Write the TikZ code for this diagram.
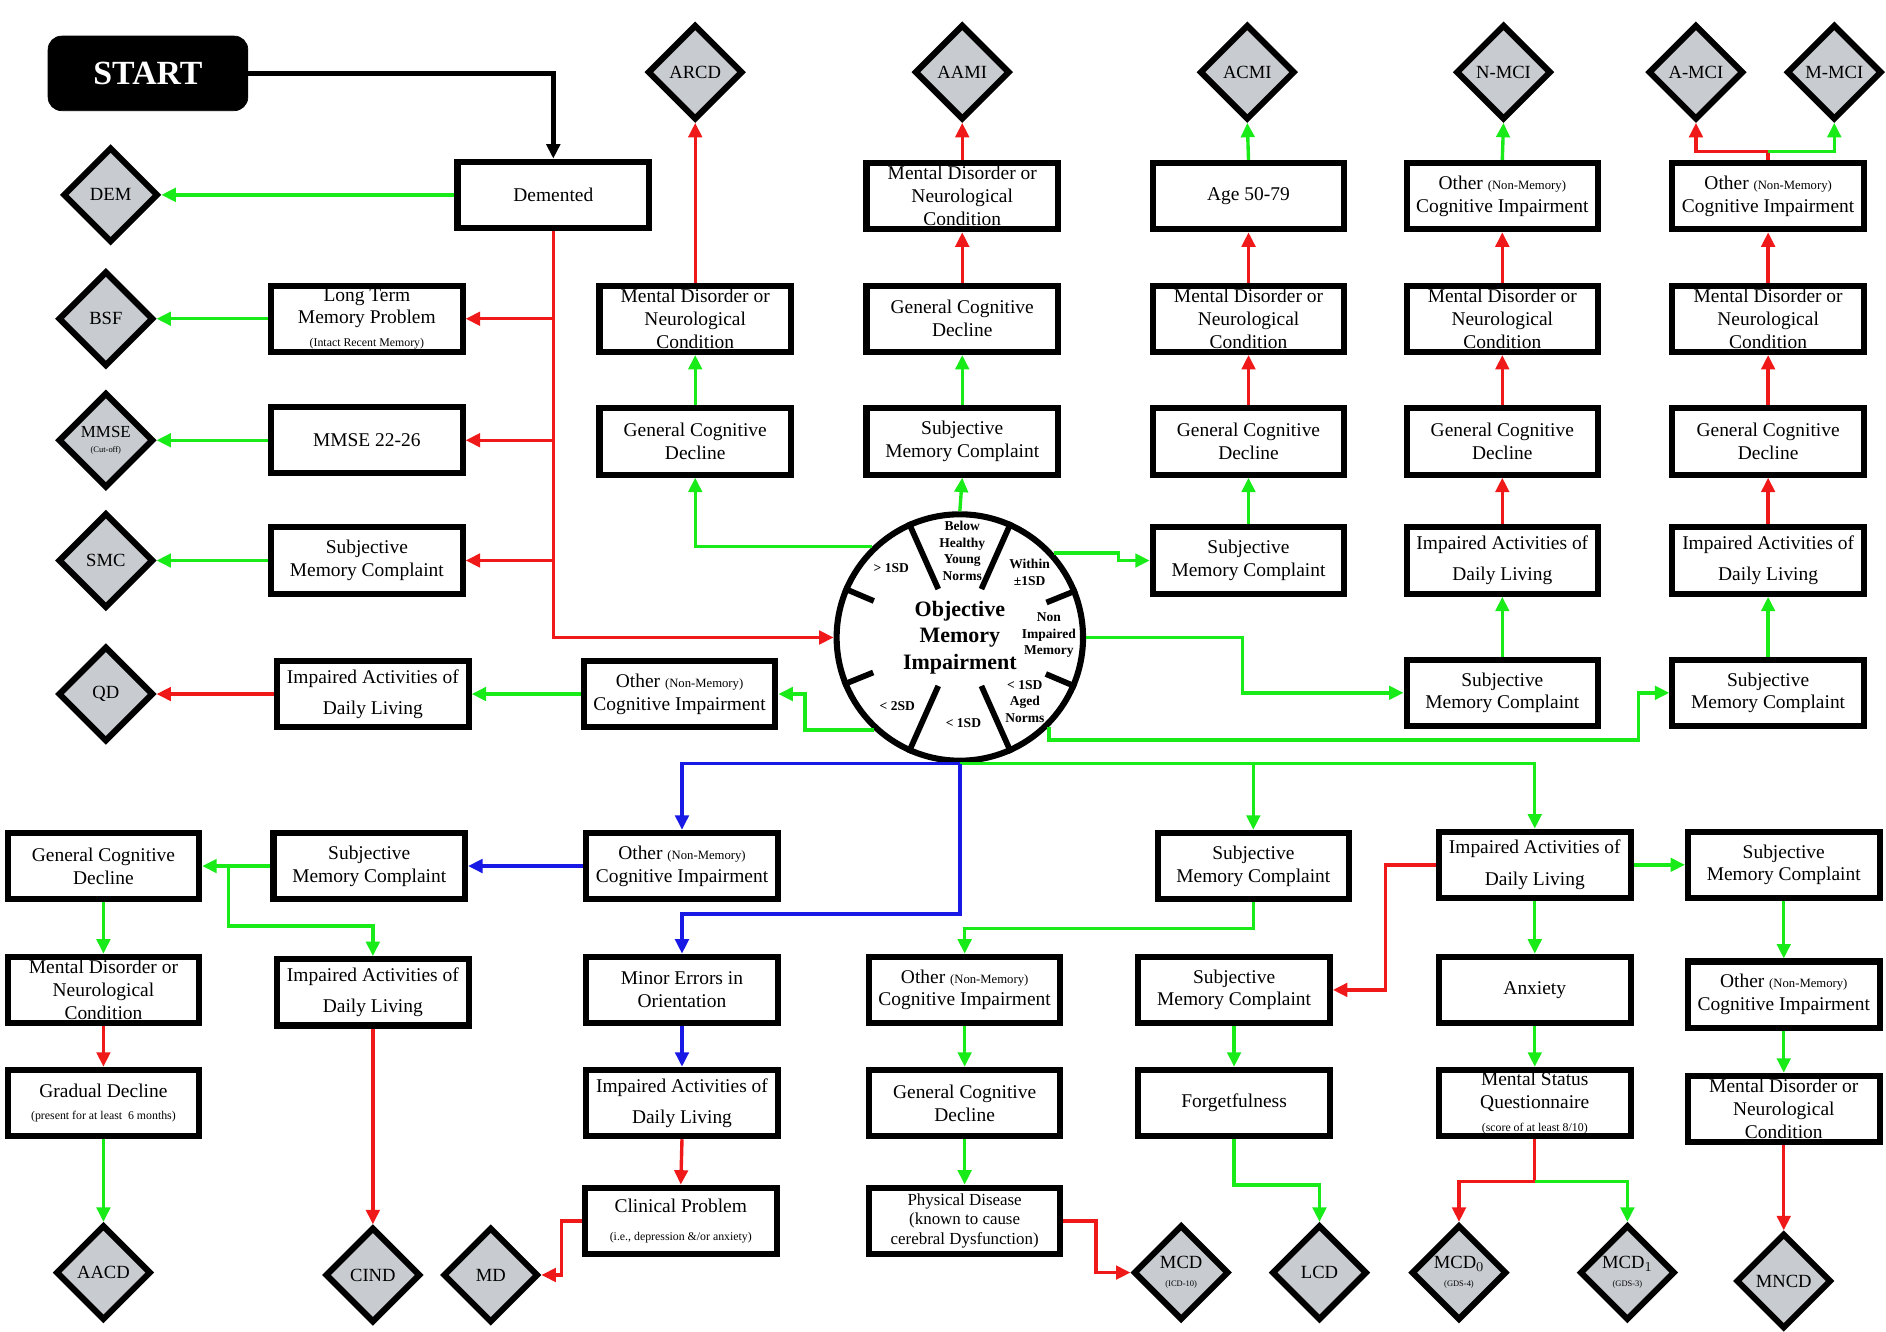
\documentclass[tikz,border=0pt]{standalone}
\usepackage{fontspec}
\setmainfont{Liberation Serif}
\usetikzlibrary{shapes.geometric}
\usetikzlibrary{arrows.meta}
\usetikzlibrary{calc}

\definecolor{okgreen}{RGB}{25,235,25}
\definecolor{nored}{RGB}{240,25,25}
\definecolor{altblue}{RGB}{25,25,230}
\definecolor{endgray}{RGB}{200,203,207}
\newcommand{\nonmem}{\fontsize{7.5}{9}\selectfont}

\tikzset{
  box/.style={draw, line width=3.6pt, fill=white, minimum width=3.98cm, minimum height=1.38cm, inner sep=1pt, align=center, font=\fontsize{11.5}{13.5}\selectfont},
  startbox/.style={draw, fill=black, text=white, rounded corners=8pt, minimum width=4.15cm, minimum height=1.55cm, font=\fontsize{20}{24}\selectfont\bfseries},
  endpt/.style={diamond, draw, line width=3.6pt, fill=endgray, minimum width=1.98cm, minimum height=1.98cm, inner sep=0pt, align=center, font=\fontsize{11}{10.5}\selectfont},
  seg/.style={inner sep=0pt, align=center, font=\fontsize{8}{9.8}\selectfont\bfseries},
  tip/.style={-{Triangle[length=0.3cm,width=0.28cm]}},
  yesline/.style={draw=okgreen, line width=2pt, tip},
  noline/.style={draw=nored, line width=2pt, tip},
  altline/.style={draw=altblue, line width=2pt, tip},
}

\begin{document}
\begin{tikzpicture}[x=0.025cm,y=-0.025cm]
\useasboundingbox (0,0) rectangle (1568,1107);

% start and the left column
\node[startbox] (start) at (123,61) {START};
\node[box] (demented) at (460,162) {Demented};
\node[endpt] (dem) at (92,162) {DEM};
\node[box] (ltm) at (305,265) {Long Term\\Memory Problem\\{\scriptsize (Intact Recent Memory)}};
\node[endpt] (bsf) at (88,265) {BSF};
\node[box] (mmse) at (305,366) {MMSE 22-26};
\node[endpt, font=\fontsize{10}{9}\selectfont] (mmsed) at (88,366) {MMSE\\{\tiny (Cut-off)}};
\node[box] (smcA) at (305,466) {Subjective\\Memory Complaint};
\node[endpt] (smc) at (88,466) {SMC};
\node[box] (iadlA) at (310,577) {Impaired Activities of\\[5pt]Daily Living};
\node[endpt] (qd) at (88,577) {QD};
\node[box] (othA) at (565,577) {Other {\nonmem (Non-Memory)}\\Cognitive Impairment};

% objective memory impairment
\node[circle, draw, line width=3.6pt, minimum size=5.12cm, align=center, font=\fontsize{13}{15.5}\selectfont\bfseries] (omi) at (798,530) {Objective\\Memory\\Impairment};
\foreach \a in {66,114,246,294}
  \draw[line width=3.4pt] ($(omi.center)!0.42!(omi.\a)$) -- (omi.\a);
\foreach \a in {22.5,157.5,202.5,337.5}
  \draw[line width=3.4pt] ($(omi.center)!0.74!(omi.\a)$) -- (omi.\a);
\node[seg] (sdover) at (741,472) {> 1SD};
\node[seg] (young) at (800,458) {Below\\Healthy\\Young\\Norms};
\node[seg] (within) at (856,476) {Within\\±1SD};
\node[seg] (nonimp) at (872,528) {Non\\Impaired\\Memory};
\node[seg] (aged) at (852,583) {< 1SD\\Aged\\Norms};
\node[seg] (sdone) at (801,601) {< 1SD};
\node[seg] (sdtwo) at (746,587) {< 2SD};

% top row
\node[endpt] (arcd) at (578,60) {ARCD};
\node[endpt] (aami) at (800,60) {AAMI};
\node[endpt] (acmi) at (1037,60) {ACMI};
\node[endpt] (nmci) at (1250,60) {N-MCI};
\node[endpt] (amci) at (1410,60) {A-MCI};
\node[endpt] (mmci) at (1525,60) {M-MCI};

\node[box] (mdncB) at (578,265) {Mental Disorder or\\Neurological\\Condition};
\node[box] (gcdB) at (578,367) {General Cognitive\\Decline};

\node[box] (mdncC) at (800,163) {Mental Disorder or\\Neurological\\Condition};
\node[box] (gcdC) at (800,265) {General Cognitive\\Decline};
\node[box] (smcC) at (800,367) {Subjective\\Memory Complaint};

\node[box] (ageD) at (1038,163) {Age 50-79};
\node[box] (mdncD) at (1038,265) {Mental Disorder or\\Neurological\\Condition};
\node[box] (gcdD) at (1038,367) {General Cognitive\\Decline};
\node[box] (smcD) at (1038,466) {Subjective\\Memory Complaint};

\node[box] (othE) at (1249,163) {Other {\nonmem (Non-Memory)}\\Cognitive Impairment};
\node[box] (mdncE) at (1249,265) {Mental Disorder or\\Neurological\\Condition};
\node[box] (gcdE) at (1249,367) {General Cognitive\\Decline};
\node[box] (iadlE) at (1249,466) {Impaired Activities of\\[5pt]Daily Living};
\node[box] (smcE) at (1249,576) {Subjective\\Memory Complaint};

\node[box] (othF) at (1470,163) {Other {\nonmem (Non-Memory)}\\Cognitive Impairment};
\node[box] (mdncF) at (1470,265) {Mental Disorder or\\Neurological\\Condition};
\node[box] (gcdF) at (1470,367) {General Cognitive\\Decline};
\node[box] (iadlF) at (1470,466) {Impaired Activities of\\[5pt]Daily Living};
\node[box] (smcF) at (1470,576) {Subjective\\Memory Complaint};

% lower part
\node[box] (gcdG) at (86,720) {General Cognitive\\Decline};
\node[box] (mdncG) at (86,823) {Mental Disorder or\\Neurological\\Condition};
\node[box] (gradG) at (86,917) {Gradual Decline\\{\scriptsize (present for at least \ 6 months)}};
\node[endpt] (aacd) at (86,1058) {AACD};

\node[box] (smcH) at (307,720) {Subjective\\Memory Complaint};
\node[box] (iadlH) at (310,825) {Impaired Activities of\\[5pt]Daily Living};
\node[endpt] (cind) at (310,1060) {CIND};

\node[box] (othI) at (567,720) {Other {\nonmem (Non-Memory)}\\Cognitive Impairment};
\node[box] (minorI) at (567,823) {Minor Errors in\\Orientation};
\node[box] (iadlI) at (567,917) {Impaired Activities of\\[5pt]Daily Living};
\node[box] (clinI) at (566,1015) {Clinical Problem\\[3pt]{\scriptsize (i.e., depression \&/or anxiety)}};
\node[endpt] (md) at (408,1060) {MD};

\node[box] (othJ) at (802,823) {Other {\nonmem (Non-Memory)}\\Cognitive Impairment};
\node[box] (gcdJ) at (802,917) {General Cognitive\\Decline};
\node[box, font=\fontsize{10}{11.5}\selectfont] (physJ) at (802,1015) {Physical Disease\\(known to cause\\cerebral Dysfunction)};
\node[endpt] (mcd) at (982,1058) {MCD\\{\tiny (ICD-10)}};

\node[box] (smcK) at (1042,720) {Subjective\\Memory Complaint};
\node[box] (smcL) at (1026,823) {Subjective\\Memory Complaint};
\node[box] (forgetL) at (1026,917) {Forgetfulness};
\node[endpt] (lcd) at (1097,1058) {LCD};

\node[box] (iadlM) at (1276,719) {Impaired Activities of\\[5pt]Daily Living};
\node[box] (anxM) at (1276,823) {Anxiety};
\node[box] (msqM) at (1276,917) {Mental Status\\Questionnaire\\{\scriptsize (score of at least 8/10)}};
\node[endpt] (mcdzero) at (1213,1058) {MCD$_0$\\{\tiny (GDS-4)}};
\node[endpt] (mcdone) at (1353,1058) {MCD$_1$\\{\tiny (GDS-3)}};

\node[box] (smcN) at (1483,719) {Subjective\\Memory Complaint};
\node[box] (othN) at (1483,827) {Other {\nonmem (Non-Memory)}\\Cognitive Impairment};
\node[box] (mdncN) at (1483,922) {Mental Disorder or\\Neurological\\Condition};
\node[endpt] (mncd) at (1483,1065) {MNCD};

% connectors, left
\draw[black, line width=2.8pt, tip] (start.east) -| (demented.north);
\draw[yesline] (demented.west) -- (dem.east);
\draw[noline] (demented.south) |- (omi.west);
\draw[noline] (demented.south |- ltm.east) -- (ltm.east);
\draw[noline] (demented.south |- mmse.east) -- (mmse.east);
\draw[noline] (demented.south |- smcA.east) -- (smcA.east);
\draw[yesline] (ltm.west) -- (bsf.east);
\draw[yesline] (mmse.west) -- (mmsed.east);
\draw[yesline] (smcA.west) -- (smc.east);
\draw[yesline] (omi.227) -- ++(-57,0) |- (othA.east);
\draw[yesline] (othA.west) -- (iadlA.east);
\draw[noline] (iadlA.west) -- (qd.east);

% connectors, upper columns
\draw[yesline] (omi.134) -| (gcdB.south);
\draw[yesline] (gcdB.north) -- (mdncB.south);
\draw[noline] (mdncB.north) -- (arcd.south);

\draw[yesline] (omi.north) -- (smcC.south);
\draw[yesline] (smcC.north) -- (gcdC.south);
\draw[noline] (gcdC.north) -- (mdncC.south);
\draw[noline] (mdncC.north) -- (aami.south);

\draw[yesline] (omi.42) -- ++(54,0) |- (smcD.west);
\draw[yesline] (smcD.north) -- (gcdD.south);
\draw[noline] (gcdD.north) -- (mdncD.south);
\draw[noline] (mdncD.north) -- (ageD.south);
\draw[yesline] (ageD.north) -- (acmi.south);

\draw[yesline] (omi.east) -- ++(130,0) |- (smcE.west);
\draw[yesline] (smcE.north) -- (iadlE.south);
\draw[noline] (iadlE.north) -- (gcdE.south);
\draw[noline] (gcdE.north) -- (mdncE.south);
\draw[noline] (mdncE.north) -- (othE.south);
\draw[yesline] (othE.north) -- (nmci.south);

\draw[yesline] (omi.-45) -- ++(0,11) -- ++(490,0) |- (smcF.west);
\draw[yesline] (smcF.north) -- (iadlF.south);
\draw[noline] (iadlF.north) -- (gcdF.south);
\draw[noline] (gcdF.north) -- (mdncF.south);
\draw[noline] (mdncF.north) -- (othF.south);
\coordinate (splitF) at ($(othF.north)+(0,-7)$);
\draw[noline] (othF.north) -- (splitF) -| (amci.south);
\draw[yesline] (splitF) -| (mmci.south);

% connectors, lower part
\draw[yesline] (omi.south) -| (iadlM.north);
\draw[yesline] (omi.south -| smcK.north) -- (smcK.north);
\draw[altline] (omi.south) -| (othI.north);
\draw[altline] (omi.south) -- ++(0,125) -| (minorI.north);

\draw[altline] (othI.west) -- (smcH.east);
\draw[yesline] (smcH.west) -- (gcdG.east);
\draw[yesline] (smcH.west) -- ++(-35,0) -- ++(0,50) -| (iadlH.north);
\draw[yesline] (gcdG.south) -- (mdncG.north);
\draw[noline] (mdncG.south) -- (gradG.north);
\draw[yesline] (gradG.south) -- (aacd.north);
\draw[noline] (iadlH.south) -- (cind.north);

\draw[altline] (minorI.south) -- (iadlI.north);
\draw[noline] (iadlI.south) -- (clinI.north);
\draw[noline] (clinI.west) -- ++(-17,0) |- (md.east);

\draw[yesline] (smcK.south) -- ++(0,22) -| (othJ.north);
\draw[yesline] (othJ.south) -- (gcdJ.north);
\draw[yesline] (gcdJ.south) -- (physJ.north);
\draw[noline] (physJ.east) -- ++(27,0) |- (mcd.west);

\draw[noline] (iadlM.west) -- ++(-42,0) |- (smcL.east);
\draw[yesline] (smcL.south) -- (forgetL.north);
\draw[yesline] (forgetL.south) -- ++(0,38) -| (lcd.north);

\draw[yesline] (iadlM.east) -- (smcN.west);
\draw[yesline] (iadlM.south) -- (anxM.north);
\draw[yesline] (anxM.south) -- (msqM.north);
\coordinate (splitM) at ($(msqM.south)+(0,35)$);
\draw[noline] (msqM.south) -- (splitM) -| (mcdzero.north);
\draw[yesline] (splitM) -| (mcdone.north);

\draw[yesline] (smcN.south) -- (othN.north);
\draw[yesline] (othN.south) -- (mdncN.north);
\draw[noline] (mdncN.south) -- (mncd.north);
\end{tikzpicture}
\end{document}
